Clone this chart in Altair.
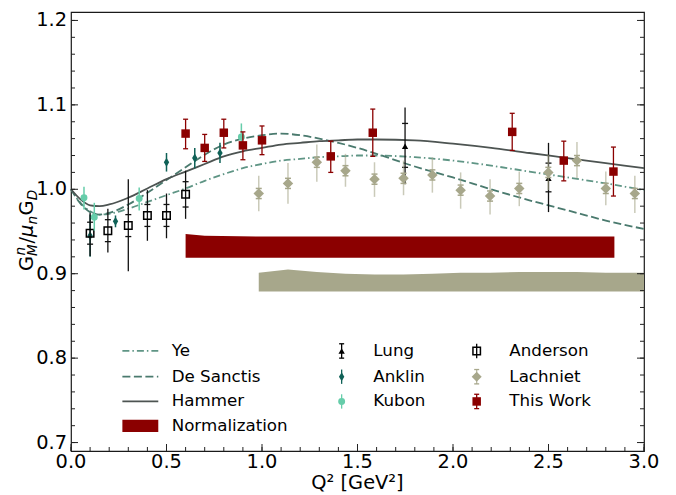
import altair as alt
import pandas as pd

# ---------------- model curves ----------------
curve_q = [0, 0.05, 0.1, 0.15, 0.2, 0.3, 0.4, 0.5, 0.6, 0.7, 0.8, 0.9, 1.0, 1.1, 1.2,
           1.3, 1.4, 1.5, 1.6, 1.8, 2.0, 2.2, 2.4, 2.6, 2.8, 3.0]
hammer_v = [1.000, 0.988, 0.981, 0.980, 0.982, 0.990, 1.001, 1.012, 1.021, 1.030, 1.039,
            1.045, 1.049, 1.053, 1.055, 1.057, 1.058, 1.059, 1.059, 1.058, 1.054, 1.049,
            1.043, 1.037, 1.031, 1.025]
ye_v = [1.000, 0.984, 0.974, 0.970, 0.971, 0.977, 0.985, 0.993, 1.001, 1.010, 1.018,
        1.025, 1.030, 1.034, 1.036, 1.038, 1.039, 1.040, 1.040, 1.038, 1.034, 1.028,
        1.021, 1.014, 1.007, 0.999]
desanctis_v = [1.000, 0.983, 0.973, 0.970, 0.972, 0.982, 0.996, 1.011, 1.026, 1.041, 1.053,
               1.060, 1.064, 1.066, 1.064, 1.060, 1.055, 1.049, 1.042, 1.027, 1.014, 1.000,
               0.987, 0.975, 0.963, 0.953]

# ---------------- This Work ----------------
tw_q = [0.60, 0.70, 0.80, 0.90, 1.00, 1.36, 1.58, 2.31, 2.58, 2.84]
tw_v = [1.066, 1.049, 1.067, 1.052, 1.058, 1.039, 1.067, 1.068, 1.034, 1.021]
tw_lo = [1.048, 1.033, 1.049, 1.035, 1.041, 1.020, 1.039, 1.046, 1.010, 0.992]
tw_hi = [1.083, 1.065, 1.083, 1.068, 1.075, 1.057, 1.095, 1.090, 1.057, 1.050]
tw_norm_q = [0.60, 0.70, 1.00, 1.58, 2.31, 2.845]
tw_norm_hi = [0.947, 0.945, 0.944, 0.944, 0.944, 0.944]
tw_norm_lo = [0.919, 0.919, 0.919, 0.919, 0.919, 0.919]

# ---------------- Lachniet ----------------
la_q = [0.983, 1.136, 1.287, 1.437, 1.589, 1.741, 1.892, 2.040, 2.194, 2.347, 2.499, 2.649, 2.800, 2.952]
la_v = [0.995, 1.007, 1.032, 1.022, 1.012, 1.013, 1.017, 0.999, 0.992, 1.001, 1.020, 1.034, 1.001, 0.995]
la_lo = [0.974, 0.983, 1.009, 1.003, 0.991, 0.993, 0.996, 0.977, 0.970, 0.980, 0.999, 1.013, 0.981, 0.972]
la_hi = [1.016, 1.031, 1.053, 1.042, 1.032, 1.034, 1.038, 1.020, 1.012, 1.021, 1.041, 1.056, 1.021, 1.016]
la_slo = [0.989, 1.001, 1.026, 1.016, 1.006, 1.007, 1.011, 0.993, 0.986, 0.995, 1.014, 1.028, 0.995, 0.989]
la_shi = [1.001, 1.013, 1.038, 1.028, 1.018, 1.019, 1.023, 1.005, 0.998, 1.007, 1.026, 1.040, 1.007, 1.001]
la_band_q = [0.983, 1.136, 1.287, 1.437, 1.589, 1.741, 1.892, 2.040, 2.194, 2.347, 2.499, 2.649, 2.800, 2.952, 3.0]
la_band_hi = [0.901, 0.905, 0.902, 0.900, 0.899, 0.899, 0.900, 0.901, 0.901, 0.902, 0.902, 0.902, 0.901, 0.901, 0.901]
la_band_lo = [0.879] * 15

# ---------------- Anderson ----------------
an_q = [0.100, 0.193, 0.300, 0.400, 0.500, 0.600]
an_v = [0.948, 0.951, 0.957, 0.969, 0.969, 0.994]
an_lo = [0.921, 0.925, 0.903, 0.939, 0.942, 0.965]
an_hi = [0.972, 0.977, 1.012, 0.999, 0.995, 1.022]
an_slo = [0.935, 0.938, 0.944, 0.956, 0.956, 0.979]
an_shi = [0.961, 0.964, 0.970, 0.982, 0.982, 1.009]

# ---------------- Anklin ----------------
ak_q = [0.100, 0.233, 0.500, 0.648, 0.780]
ak_v = [0.945, 0.962, 1.032, 1.037, 1.043]
ak_lo = [0.920, 0.955, 1.021, 1.025, 1.031]
ak_hi = [0.970, 0.969, 1.043, 1.049, 1.055]

# ---------------- Kubon ----------------
ku_q = [0.068, 0.122, 0.357, 0.892]
ku_v = [0.990, 0.967, 0.989, 1.062]
ku_lo = [0.976, 0.951, 0.975, 1.048]
ku_hi = [1.003, 0.984, 1.002, 1.078]

# ---------------- Lung ----------------
lu_q = [1.749, 2.500]
lu_v = [1.051, 1.013]
lu_lo = [1.006, 0.973]
lu_hi = [1.097, 1.055]
lu_slo = [1.026, 0.997]
lu_shi = [1.078, 1.031]

# ---------------- axes ----------------
x_major = [0.0, 0.5, 1.0, 1.5, 2.0, 2.5, 3.0]
x_labels = ["0.0", "0.5", "1.0", "1.5", "2.0", "2.5", "3.0"]
x_minor = [round(0.1 * i, 2) for i in range(31)]
y_major = [0.7, 0.8, 0.9, 1.0, 1.1, 1.2]
y_labels = ["0.7", "0.8", "0.9", "1.0", "1.1", "1.2"]
y_minor = [round(0.70 + 0.02 * i, 2) for i in range(26)]
x_title = "Q² [GeV²]"

# ---------------- legend ----------------
leg_rows = [0.8085, 0.7780, 0.7487, 0.7198]
leg_line_q = [0.269, 0.457]
leg_text_q = [0.527, 1.583, 2.295]
leg_sym_q = [1.417, 2.124]

DARKRED = "#8b0000"
LACH = "#a7a78b"
ANKLIN = "#0f6157"
KUBON = "#66cdaa"
YE_C = "#5f9585"
DS_C = "#4a7a6e"
HAM_C = "#4d5452"
FONT = "DejaVu Sans"
W, H = 573, 439
FS = 19.4

xs = alt.Scale(domain=[0, 3], nice=False, zero=False)
ys = alt.Scale(domain=[0.69, 1.21], nice=False, zero=False)


def X(f="q"):
    return alt.X(f"{f}:Q", scale=xs, axis=None)


def Y(f="v"):
    return alt.Y(f"{f}:Q", scale=ys, axis=None)


def ebar(df, lo, hi, color, sw=1.5, op=1.0):
    return alt.Chart(df).mark_rule(color=color, strokeWidth=sw, opacity=op).encode(
        x=X(), y=Y(lo), y2=alt.Y2(f"{hi}:Q"))


def caps(df, cols, color, w=6, sw=1.5, op=1.0):
    return [alt.Chart(df).mark_point(shape="M-1,0L1,0", filled=False, color=color,
                                     strokeWidth=sw, size=w * w, opacity=op).encode(x=X(), y=Y(c))
            for c in cols]


def markers(df, shape, color, size, filled=True, sw=1.0):
    return alt.Chart(df).mark_point(shape=shape, filled=filled, color=color, size=size,
                                    opacity=1, strokeWidth=sw).encode(x=X(), y=Y())


THIN_D = "M0,-1L0.6,0L0,1L-0.6,0Z"
layers = []

# bands
tw_band = pd.DataFrame({"q": tw_norm_q, "lo": tw_norm_lo, "hi": tw_norm_hi})
la_band = pd.DataFrame({"q": la_band_q, "lo": la_band_lo, "hi": la_band_hi})
layers.append(alt.Chart(tw_band).mark_area(color=DARKRED, opacity=1).encode(
    x=X(), y=Y("lo"), y2=alt.Y2("hi:Q")))
layers.append(alt.Chart(la_band).mark_area(color=LACH, opacity=1).encode(
    x=X(), y=Y("lo"), y2=alt.Y2("hi:Q")))

# curves
cdf = pd.DataFrame({"q": curve_q, "ham": hammer_v, "ye": ye_v, "ds": desanctis_v})
layers.append(alt.Chart(cdf).mark_line(color=YE_C, strokeWidth=1.8, strokeDash=[7, 3, 1.5, 3],
                                       interpolate="monotone").encode(x=X(), y=Y("ye")))
layers.append(alt.Chart(cdf).mark_line(color=DS_C, strokeWidth=1.8, strokeDash=[8, 3.5],
                                       interpolate="monotone").encode(x=X(), y=Y("ds")))
layers.append(alt.Chart(cdf).mark_line(color=HAM_C, strokeWidth=1.8,
                                       interpolate="monotone").encode(x=X(), y=Y("ham")))

# inward ticks
ymaj = pd.DataFrame({"v": y_major, "t": y_labels})
ymin = pd.DataFrame({"v": y_minor})
xmaj = pd.DataFrame({"q": x_major, "t": x_labels})
xmin = pd.DataFrame({"q": x_minor})
TC = "#222"
for df, L in ((ymin, 4), (ymaj, 7)):
    layers.append(alt.Chart(df).mark_rule(color=TC, strokeWidth=1).encode(
        y=Y(), x=alt.value(0), x2=alt.value(L)))
    layers.append(alt.Chart(df).mark_rule(color=TC, strokeWidth=1).encode(
        y=Y(), x=alt.value(W), x2=alt.value(W - L)))
for df, L in ((xmin, 4), (xmaj, 7)):
    layers.append(alt.Chart(df).mark_rule(color=TC, strokeWidth=1).encode(
        x=X(), y=alt.value(H), y2=alt.value(H - L)))

# tick labels and x title (text marks placed through the scales)
layers.append(alt.Chart(ymaj).mark_text(align="right", baseline="middle", font=FONT, fontSize=FS,
                                        color="#000", dx=-4).encode(
    y=Y(), x=alt.value(0), text="t:N"))
layers.append(alt.Chart(xmaj).mark_text(align="center", baseline="top", font=FONT, fontSize=FS,
                                        color="#000", dy=2).encode(
    x=X(), y=alt.value(H), text="t:N"))
layers.append(alt.Chart(pd.DataFrame({"t": [x_title]})).mark_text(
    align="center", baseline="alphabetic", font=FONT, fontSize=FS, color="#000").encode(
    x=alt.value(W / 2), y=alt.value(H + 38), text="t:N"))

# Anklin
akdf = pd.DataFrame({"q": ak_q, "v": ak_v, "lo": ak_lo, "hi": ak_hi})
layers.append(ebar(akdf, "lo", "hi", ANKLIN))
layers.append(markers(akdf, THIN_D, ANKLIN, 80))

# Anderson
andf = pd.DataFrame({"q": an_q, "v": an_v, "lo": an_lo, "hi": an_hi, "slo": an_slo, "shi": an_shi})
layers.append(ebar(andf, "lo", "hi", "#111", sw=1.3))
layers += caps(andf, ["slo", "shi"], "#111", w=6, sw=1.3)
layers.append(markers(andf, "square", "#000", 56, filled=False, sw=1.5))

# Kubon
kudf = pd.DataFrame({"q": ku_q, "v": ku_v, "lo": ku_lo, "hi": ku_hi})
layers.append(ebar(kudf, "lo", "hi", KUBON))
layers.append(markers(kudf, "circle", KUBON, 48))

# Lung
ludf = pd.DataFrame({"q": lu_q, "v": lu_v, "lo": lu_lo, "hi": lu_hi, "slo": lu_slo, "shi": lu_shi})
layers.append(ebar(ludf, "lo", "hi", "#111", sw=1.3))
layers += caps(ludf, ["slo", "shi"], "#111", w=6, sw=1.3)
layers.append(markers(ludf, "triangle-up", "#000", 40))

# Lachniet
ladf = pd.DataFrame({"q": la_q, "v": la_v, "lo": la_lo, "hi": la_hi, "slo": la_slo, "shi": la_shi})
layers.append(ebar(ladf, "lo", "hi", LACH, sw=1.5, op=0.6))
layers += caps(ladf, ["slo", "shi"], LACH, w=6, sw=1.5)
layers.append(markers(ladf, "diamond", LACH, 110))

# This Work
twdf = pd.DataFrame({"q": tw_q, "v": tw_v, "lo": tw_lo, "hi": tw_hi})
layers.append(ebar(twdf, "lo", "hi", DARKRED, sw=1.3))
layers += caps(twdf, ["lo", "hi"], DARKRED, w=5, sw=1.3)
layers.append(markers(twdf, "square", DARKRED, 72))

# ---------------- legend ----------------
leg_text = pd.DataFrame({
    "q": [leg_text_q[0]] * 4 + [leg_text_q[1]] * 3 + [leg_text_q[2]] * 3,
    "v": leg_rows + leg_rows[:3] + leg_rows[:3],
    "t": ["Ye", "De Sanctis", "Hammer", "Normalization", "Lung", "Anklin", "Kubon",
          "Anderson", "Lachniet", "This Work"]})
layers.append(alt.Chart(leg_text).mark_text(align="left", baseline="middle", font=FONT,
                                            fontSize=16.7, color="#000").encode(
    x=X(), y=Y(), text="t:N"))
for i, (col, dash) in enumerate(((YE_C, [7, 3, 1.5, 3]), (DS_C, [8, 3.5]), (HAM_C, None))):
    ldf = pd.DataFrame({"q": leg_line_q, "v": [leg_rows[i]] * 2})
    if dash:
        m = alt.Chart(ldf).mark_line(color=col, strokeWidth=1.8, strokeDash=dash)
    else:
        m = alt.Chart(ldf).mark_line(color=col, strokeWidth=1.8)
    layers.append(m.encode(x=X(), y=Y()))
nrm = pd.DataFrame({"q": [leg_line_q[0]], "q2": [leg_line_q[1]],
                    "lo": [leg_rows[3] - 0.0072], "hi": [leg_rows[3] + 0.0072]})
layers.append(alt.Chart(nrm).mark_rect(color=DARKRED).encode(
    x=X(), x2=alt.X2("q2:Q"), y=Y("lo"), y2=alt.Y2("hi:Q")))


def leg_sym(q, v, color, shape, size, filled=True, capped=True, op=1.0):
    d = pd.DataFrame({"q": [q], "v": [v], "lo": [v - 0.0085], "hi": [v + 0.0085]})
    out = [ebar(d, "lo", "hi", color, sw=1.3, op=op)]
    if capped:
        out += caps(d, ["lo", "hi"], color, w=5, sw=1.3)
    out.append(markers(d, shape, color, size, filled=filled, sw=1.5))
    return out


layers += leg_sym(leg_sym_q[0], leg_rows[0], "#000", "triangle-up", 40)
layers += leg_sym(leg_sym_q[0], leg_rows[1], ANKLIN, THIN_D, 80, capped=False)
layers += leg_sym(leg_sym_q[0], leg_rows[2], KUBON, "circle", 48, capped=False)
layers += leg_sym(leg_sym_q[1], leg_rows[0], "#000", "square", 56, filled=False, capped=False)
layers += leg_sym(leg_sym_q[1], leg_rows[1], LACH, "diamond", 100, op=0.8)
layers += leg_sym(leg_sym_q[1], leg_rows[2], DARKRED, "square", 72)

# ---------------- y title (G^n_M / mu_n G_D) ----------------
F, S = 19.4, 13.6
X0, Y0 = -38, 259
pieces = [("G", F, "normal", 0, 0), ("n", S, "italic", 15.6, -7.8), ("M", S, "italic", 15.0, 4.0),
          ("/", F, "normal", 27.5, 0), ("μ", F, "italic", 34.0, 0), ("n", S, "italic", 46.5, 4.0),
          ("G", F, "normal", 55.5, 0), ("D", S, "italic", 70.8, 4.0)]
one = pd.DataFrame({"a": [0]})
for txt, fs, st, dx, dy in pieces:
    layers.append(alt.Chart(one).mark_text(text=txt, font=FONT, fontSize=fs, fontStyle=st,
                                           angle=270, align="left", baseline="alphabetic",
                                           dx=dx, dy=dy, color="#000").encode(
        x=alt.value(X0), y=alt.value(Y0)))

chart = alt.layer(*layers).properties(
    width=W, height=H,
    autosize=alt.AutoSizeParams(type="none"),
    padding={"left": 63, "top": 4, "right": 20, "bottom": 43},
).configure_view(stroke="#1a1a1a", strokeWidth=1.2)

chart.save("out.html", embed_options={"renderer": "svg", "actions": False})
